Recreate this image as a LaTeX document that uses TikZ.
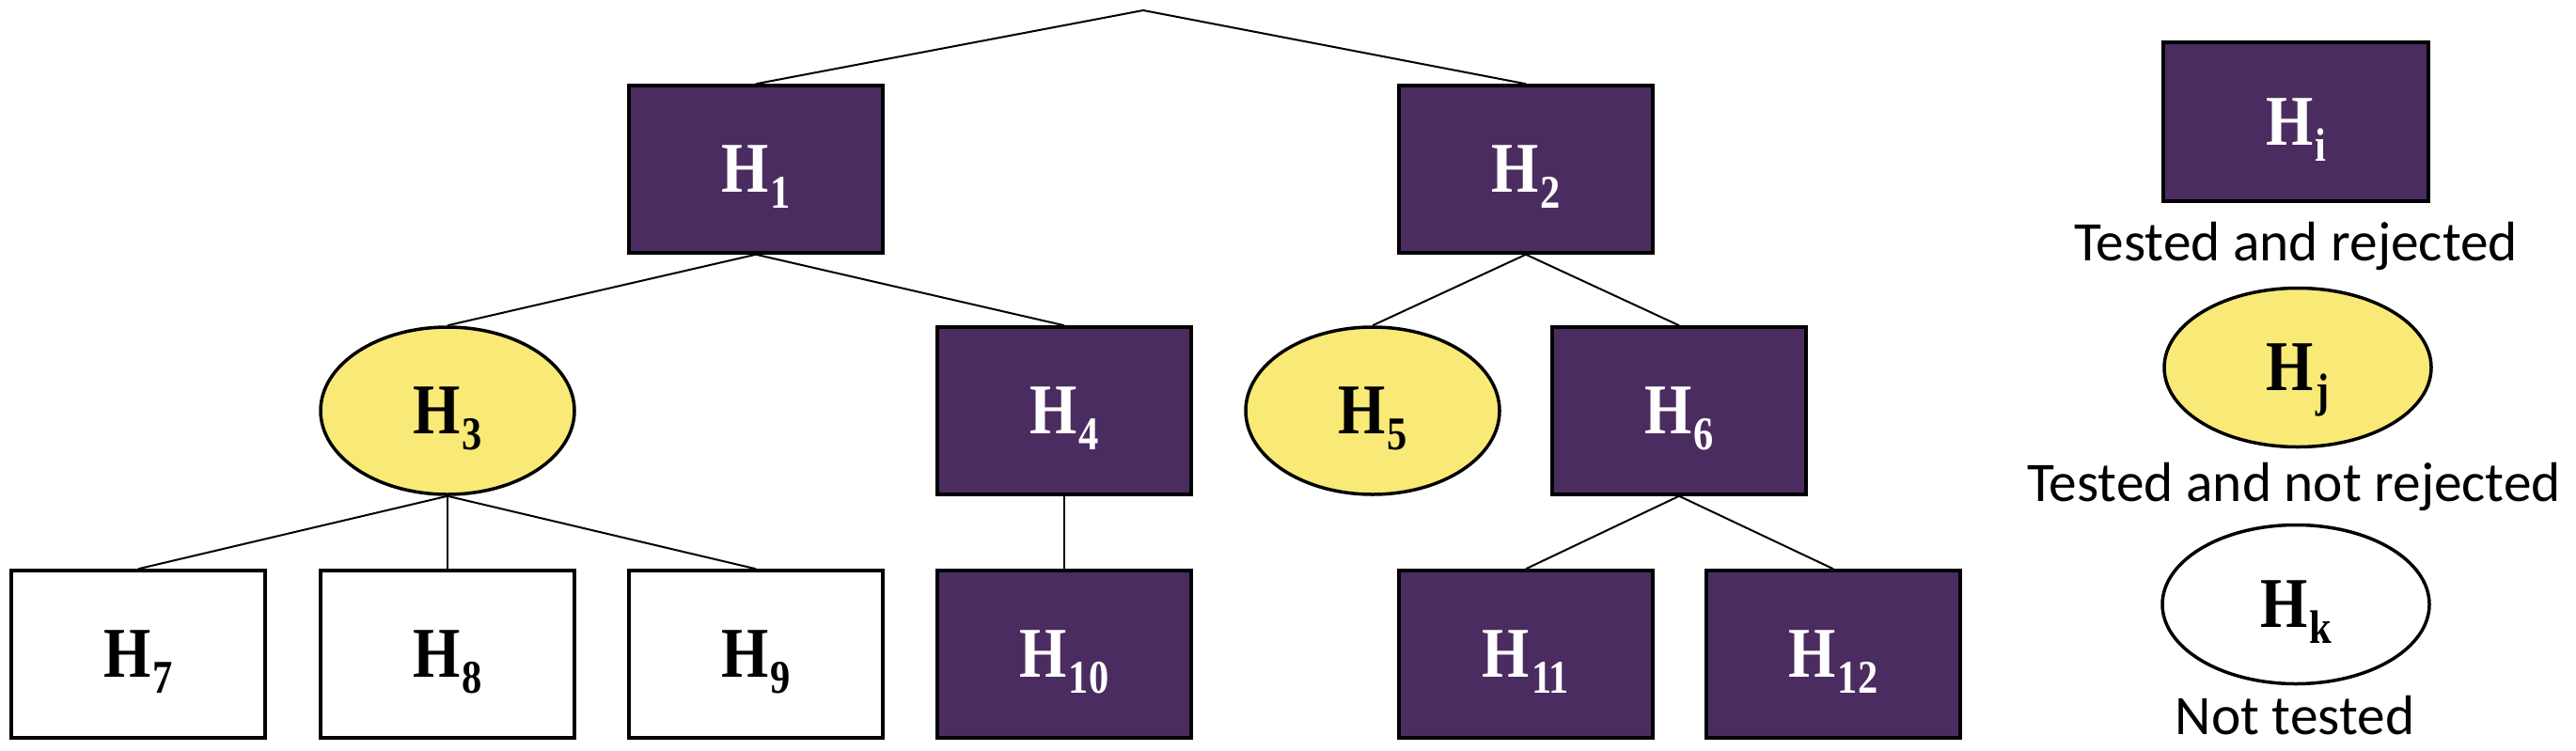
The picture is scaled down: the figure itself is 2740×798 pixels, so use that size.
\documentclass[tikz,border=0pt]{standalone}
\usepackage{fontspec}
\usetikzlibrary{shapes.geometric}
\newfontfamily\hfont[FakeStretch=0.85]{Liberation Serif}
\newfontfamily\lfont{Carlito}
\definecolor{rej}{HTML}{4B2C60}
\definecolor{nrej}{HTML}{F9E976}
\newcommand{\hyp}[1]{{\hfont\bfseries\fontsize{38}{40}\selectfont H\kern1pt\raisebox{-8.5pt}[0pt][0pt]{\fontsize{25}{27}\selectfont #1}}}
\begin{document}
\begin{tikzpicture}[x=0.5pt,y=-0.5pt,
  base/.style={draw=black,line width=1.75pt,inner sep=0pt},
  rejbox/.style={base,rectangle,fill=rej,text=white,minimum width=135pt,minimum height=89pt},
  notbox/.style={base,rectangle,fill=white,text=black,minimum width=135pt,minimum height=89pt},
  nrejell/.style={base,ellipse,fill=nrej,text=black,minimum width=135pt,minimum height=89pt},
  legbox/.style={base,rectangle,fill=rej,text=white,minimum width=141pt,minimum height=84.5pt},
  legell/.style={base,ellipse,text=black,minimum width=142pt,minimum height=84.5pt},
  edge/.style={draw=black,line width=1pt},
  legtext/.style={anchor=base,inner sep=0pt,font=\lfont\fontsize{29.7}{32}\selectfont}]
\useasboundingbox (0,0) rectangle (2740,798);
\coordinate (root) at (1216,11);
\node[rejbox] (h1) at (804,180) {\hyp{1}};
\node[rejbox] (h2) at (1623,180) {\hyp{2}};
\node[nrejell] (h3) at (476,437) {\hyp{3}};
\node[rejbox] (h4) at (1132,437) {\hyp{4}};
\node[nrejell] (h5) at (1460,437) {\hyp{5}};
\node[rejbox] (h6) at (1786,437) {\hyp{6}};
\node[notbox] (h7) at (147,696) {\hyp{7}};
\node[notbox] (h8) at (476,696) {\hyp{8}};
\node[notbox] (h9) at (804,696) {\hyp{9}};
\node[rejbox] (h10) at (1132,696) {\hyp{10}};
\node[rejbox] (h11) at (1623,696) {\hyp{11}};
\node[rejbox] (h12) at (1950,696) {\hyp{12}};
\draw[edge] (h1.north) -- (root) -- (h2.north);
\draw[edge] (h1.south) -- (h3.north);
\draw[edge] (h1.south) -- (h4.north);
\draw[edge] (h2.south) -- (h5.north);
\draw[edge] (h2.south) -- (h6.north);
\draw[edge] (h3.south) -- (h7.north);
\draw[edge] (h3.south) -- (h8.north);
\draw[edge] (h3.south) -- (h9.north);
\draw[edge] (h4.south) -- (h10.north);
\draw[edge] (h6.south) -- (h11.north);
\draw[edge] (h6.south) -- (h12.north);
% legend
\node[legbox] (li) at (2442,129.5) {\hyp{i}};
\node[legtext] (ti) at (2442,277) {Tested and rejected};
\node[legell,fill=nrej] (lj) at (2444,391) {\hyp{j}};
\node[legtext] (tj) at (2440,533) {Tested and not rejected};
\node[legell,fill=white] (lk) at (2442,643) {\hyp{k}};
\node[legtext] (tk) at (2441,781) {Not tested};
\end{tikzpicture}
\end{document}
